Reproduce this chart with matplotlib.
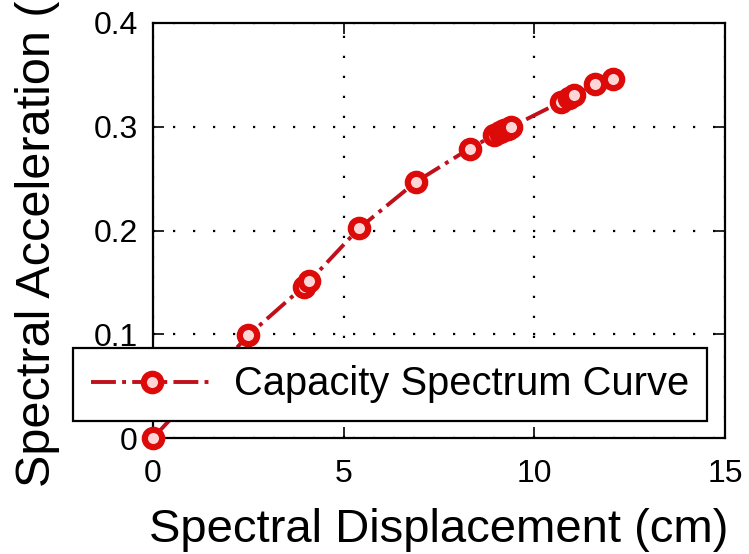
import matplotlib
matplotlib.use('Agg')
import matplotlib.pyplot as plt

# capacity spectrum points (cm, g)
sd = [0.0, 2.5, 3.95, 4.1, 5.4, 6.9, 8.3, 8.95, 9.1, 9.2, 9.3, 9.4,
      10.7, 10.9, 11.05, 11.6, 12.05]
sa = [0.0, 0.099, 0.146, 0.151, 0.202, 0.247, 0.279, 0.292, 0.295, 0.297,
      0.298, 0.300, 0.324, 0.328, 0.331, 0.341, 0.346]

xticks = [0, 5, 10, 15]
yticks = [0, 0.1, 0.2, 0.3, 0.4]
ytick_labels = ['0', '0.1', '0.2', '0.3', '0.4']

plt.rcParams['font.family'] = ['Liberation Sans', 'DejaVu Sans']

W, H = 749, 554
fig = plt.figure(figsize=(W / 100, H / 100), dpi=100)
ax = fig.add_axes([153 / W, 1 - 438 / H, (725 - 153) / W, (438 - 23) / H])

ax.plot(sd, sa, color='#c0101c', linestyle='-.', linewidth=2.8,
        marker='o', markersize=12.5, markeredgewidth=4.5,
        markeredgecolor='#dd0a0a', markerfacecolor='#ffd6d6',
        label='Capacity Spectrum Curve', zorder=3, clip_on=False)

ax.set_xlim(0, 15)
ax.set_ylim(0, 0.4)
ax.set_xticks(xticks)
ax.set_yticks(yticks)
ax.set_yticklabels(ytick_labels)
ax.tick_params(direction='in', length=8, width=1.2, labelsize=23,
               top=True, right=True, colors='black')
ax.tick_params(axis='y', pad=11)
ax.tick_params(axis='x', pad=15)
for s in ax.spines.values():
    s.set_linewidth(1.6)

ax.grid(True, color='black', linestyle=(0, (1, 8)), linewidth=1.6)

ax.set_xlabel('Spectral Displacement (cm)', fontsize=34, labelpad=14)
ax.set_ylabel('Spectral Acceleration (g)', fontsize=35)
ax.yaxis.set_label_coords(-0.162, 0.52)

leg = fig.legend(loc='lower left', bbox_to_anchor=(73 / W, 1 - 421 / H),
                 fontsize=28.7, frameon=True, fancybox=False, framealpha=1,
                 borderpad=0.44, handlelength=3.1, handletextpad=0.5,
                 borderaxespad=0)
leg.get_frame().set_edgecolor('black')
leg.get_frame().set_linewidth(1.6)
leg.set_zorder(5)

fig.savefig('out.png', dpi=100)
